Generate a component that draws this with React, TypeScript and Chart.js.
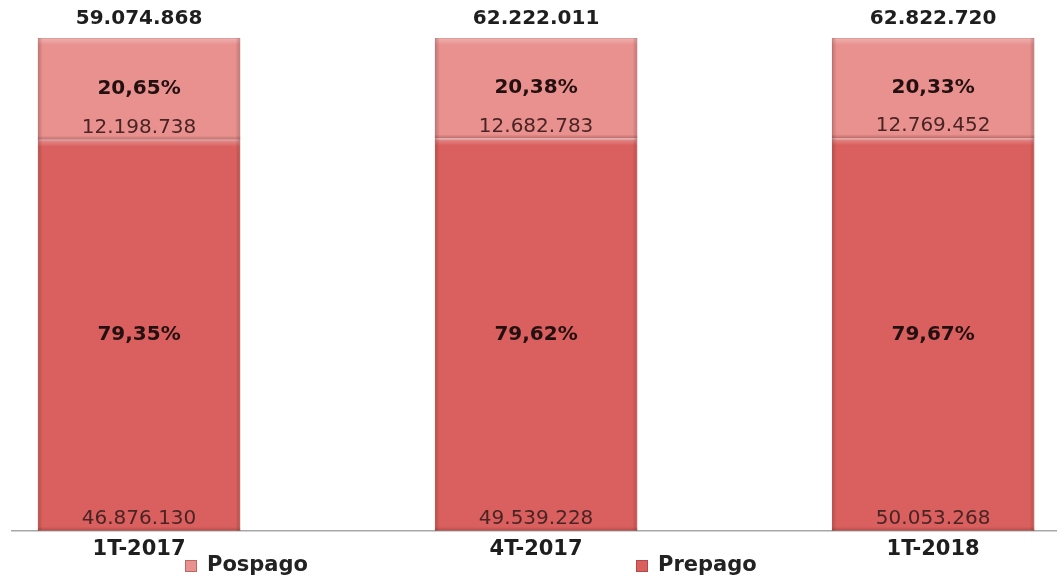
import React, { useEffect, useRef } from "react";
import { Chart, registerables } from "chart.js";

Chart.register(...registerables);

const categories = ["1T-2017", "4T-2017", "1T-2018"];
const prepagoPct = [79.35, 79.62, 79.67];
const pospagoPct = [20.65, 20.38, 20.33];
const prepagoAbs = [46876130, 49539228, 50053268];
const pospagoAbs = [12198738, 12682783, 12769452];
const totals = [59074868, 62222011, 62822720];

const PRE_COLOR = "#d9605e";
const POS_COLOR = "#e8918f";
const FONT = "'DejaVu Sans', Verdana, sans-serif";

const fmtNum = (n: number) => n.toString().replace(/\B(?=(\d{3})+(?!\d))/g, ".");
const fmtPct = (n: number) => n.toFixed(2).replace(".", ",") + "%";

const bevelPlugin = {
  id: "bevel",
  afterDatasetsDraw(chart: any) {
    const ctx = chart.ctx;
    chart.data.datasets.forEach((_: any, di: number) => {
      const meta = chart.getDatasetMeta(di);
      meta.data.forEach((bar: any) => {
        const { x, y, base, width } = bar.getProps(["x", "y", "base", "width"], true);
        const l = x - width / 2;
        const r = x + width / 2;
        const t = Math.min(y, base);
        const b = Math.max(y, base);
        ctx.save();
        let g = ctx.createLinearGradient(0, t, 0, t + 7);
        g.addColorStop(0, "rgba(255,255,255,0.3)");
        g.addColorStop(1, "rgba(255,255,255,0)");
        ctx.fillStyle = g;
        ctx.fillRect(l, t, width, 7);
        g = ctx.createLinearGradient(l, 0, l + 5, 0);
        g.addColorStop(0, "rgba(90,20,20,0.25)");
        g.addColorStop(1, "rgba(90,20,20,0)");
        ctx.fillStyle = g;
        ctx.fillRect(l, t, 5, b - t);
        g = ctx.createLinearGradient(r, 0, r - 5, 0);
        g.addColorStop(0, "rgba(90,20,20,0.25)");
        g.addColorStop(1, "rgba(90,20,20,0)");
        ctx.fillStyle = g;
        ctx.fillRect(r - 5, t, 5, b - t);
        g = ctx.createLinearGradient(0, b, 0, b - 4);
        g.addColorStop(0, "rgba(90,20,20,0.3)");
        g.addColorStop(1, "rgba(90,20,20,0)");
        ctx.fillStyle = g;
        ctx.fillRect(l, b - 4, width, 4);
        ctx.restore();
      });
    });
  },
};

const labelPlugin = {
  id: "labels",
  afterDatasetsDraw(chart: any) {
    const ctx = chart.ctx;
    const absArrays = [prepagoAbs, pospagoAbs];
    const pctArrays = [prepagoPct, pospagoPct];
    ctx.save();
    ctx.textAlign = "center";
    ctx.textBaseline = "middle";
    chart.data.datasets.forEach((_: any, di: number) => {
      const meta = chart.getDatasetMeta(di);
      meta.data.forEach((bar: any, i: number) => {
        const { x, y, base } = bar.getProps(["x", "y", "base"], true);
        const t = Math.min(y, base);
        const b = Math.max(y, base);
        ctx.fillStyle = "#241010";
        ctx.font = `bold 20px ${FONT}`;
        ctx.fillText(fmtPct(pctArrays[di][i]), x, (t + b) / 2);
        ctx.fillStyle = "#4a2424";
        ctx.font = `20px ${FONT}`;
        ctx.fillText(fmtNum(absArrays[di][i]), x, b - 12);
        if (di === chart.data.datasets.length - 1) {
          ctx.fillStyle = "#1e1e1e";
          ctx.font = `bold 20px ${FONT}`;
          ctx.fillText(fmtNum(totals[i]), x, t - 19);
        }
      });
    });
    ctx.restore();
  },
};

const legendPlugin = {
  id: "customLegend",
  afterDraw(chart: any) {
    const ctx = chart.ctx;
    const items = [
      { label: "Pospago", color: POS_COLOR, x: 185 },
      { label: "Prepago", color: PRE_COLOR, x: 636 },
    ];
    const y = 566;
    ctx.save();
    items.forEach((it) => {
      ctx.fillStyle = it.color;
      ctx.fillRect(it.x, y - 6, 12, 12);
      ctx.strokeStyle = "rgba(120,40,40,0.4)";
      ctx.lineWidth = 1;
      ctx.strokeRect(it.x + 0.5, y - 5.5, 11, 11);
      ctx.fillStyle = "#222";
      ctx.font = `bold 21px ${FONT}`;
      ctx.textAlign = "left";
      ctx.textBaseline = "middle";
      ctx.fillText(it.label, it.x + 22, y);
    });
    ctx.restore();
  },
};

export default function App() {
  const ref = useRef<HTMLCanvasElement | null>(null);
  useEffect(() => {
    if (!ref.current) return;
    const chart = new Chart(ref.current, {
      type: "bar",
      data: {
        datasets: [
          {
            label: "Prepago",
            data: prepagoPct.map((v, i) => ({ x: i, y: v })),
            backgroundColor: PRE_COLOR,
            borderColor: "#c45250",
            borderWidth: 1,
          },
          {
            label: "Pospago",
            data: pospagoPct.map((v, i) => ({ x: i, y: v })),
            backgroundColor: POS_COLOR,
            borderColor: "#d07a78",
            borderWidth: 1,
          },
        ],
      },
      options: {
        animation: false,
        responsive: true,
        maintainAspectRatio: false,
        barPercentage: 0.51,
        categoryPercentage: 1,
        layout: { padding: { left: 12, right: 0, top: 38, bottom: 11 } },
        plugins: { legend: { display: false }, tooltip: { enabled: false } },
        scales: {
          x: {
            type: "linear",
            min: -0.32,
            max: 2.312,
            offset: false,
            stacked: true,
            grid: { display: false, offset: false, drawTicks: false, tickLength: 0 },
            border: { display: true, color: "#a8a8a8", width: 1.5 },
            afterBuildTicks: (scale: any) => {
              scale.ticks = categories.map((_, i) => ({ value: i }));
            },
            ticks: {
              autoSkip: false,
              maxRotation: 0,
              padding: 6,
              color: "#1e1e1e",
              font: { family: FONT, size: 21, weight: "bold" },
              callback: (v: any) => categories[v] ?? "",
            },
          },
          y: {
            stacked: true,
            min: 0,
            max: 100,
            display: false,
          },
        },
      } as any,
      plugins: [bevelPlugin, labelPlugin, legendPlugin],
    });
    return () => chart.destroy();
  }, []);
  return (
    <div style={{ position: "fixed", left: 0, top: 0, width: 1057, height: 579, background: "#fff" }}>
      <canvas ref={ref} />
    </div>
  );
}
